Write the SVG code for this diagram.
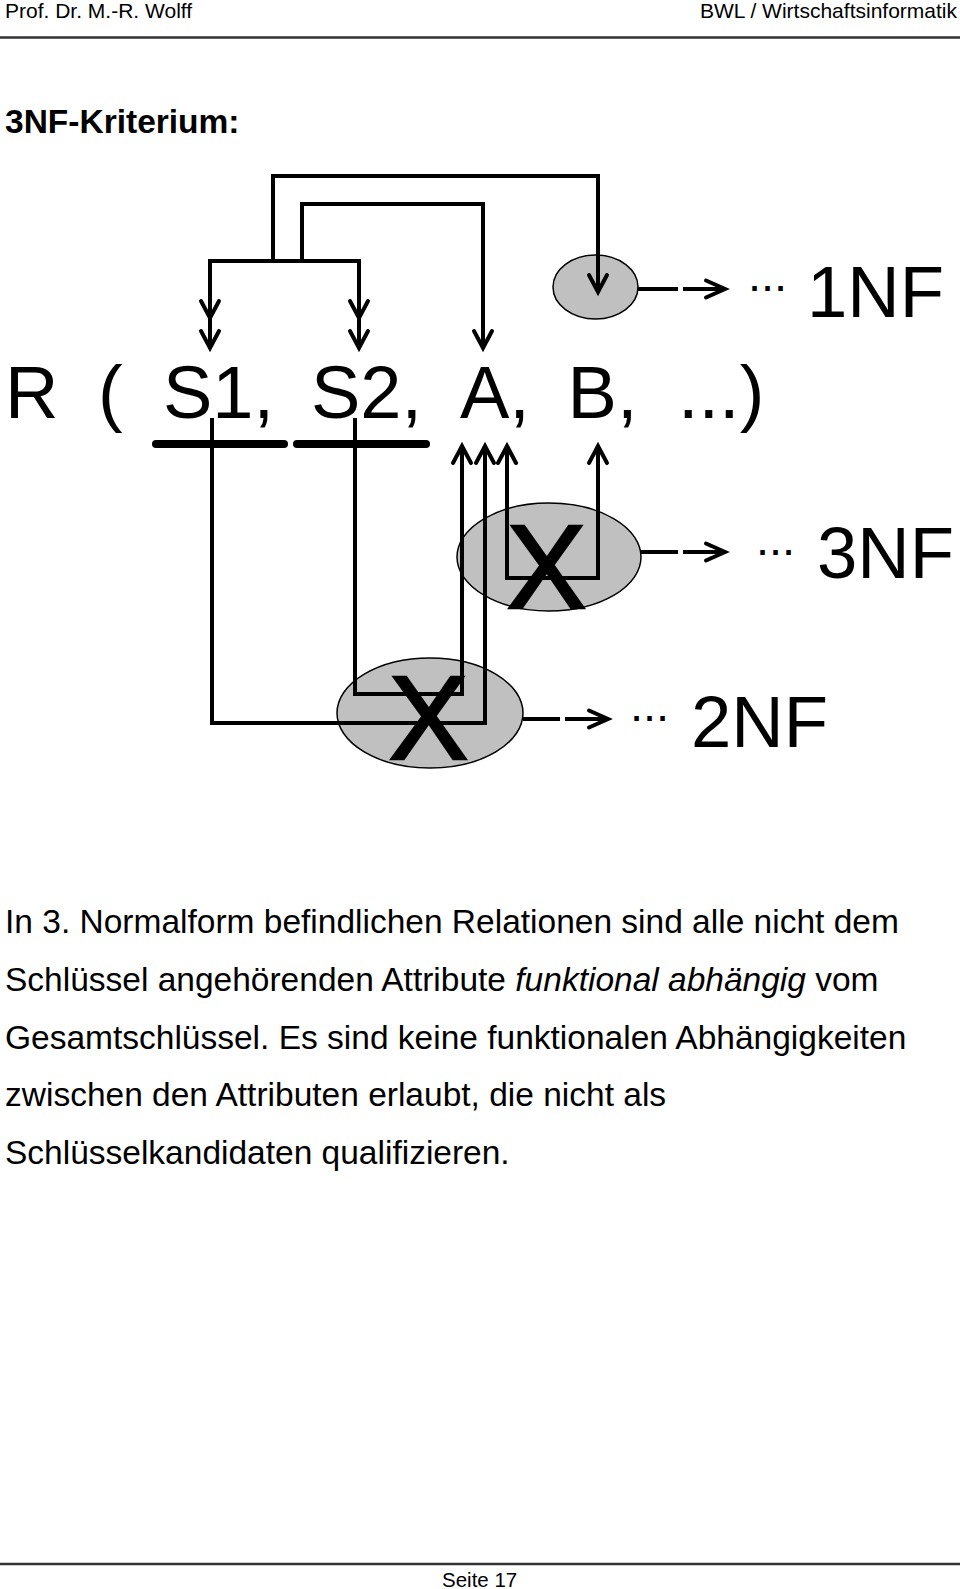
<svg xmlns="http://www.w3.org/2000/svg" width="960" height="1589" viewBox="0 0 960 1589">
<style>
.t{font-family:"Liberation Sans",Arial,sans-serif;fill:#000}
.hd{font-size:21px}
.big{font-size:74px}
.nf{font-size:72.5px}
.dots{font-size:47px}
.body{font-size:33.5px}
.ln{fill:none;stroke:#000;stroke-width:4;stroke-linejoin:miter}
.ah{fill:none;stroke:#000;stroke-width:4;stroke-linecap:round;stroke-linejoin:miter}
.el{fill:#c0c0c0;stroke:#000;stroke-width:1.5}
.x{font-family:"Liberation Sans",Arial,sans-serif;font-size:119px;font-weight:normal;text-anchor:middle;fill:#000;stroke:#000;stroke-width:2.5;stroke-linejoin:miter}
</style>
<rect width="960" height="1589" fill="#fff"/>
<g id="header">
<text class="t hd" x="5" y="18.3">Prof. Dr. M.-R. Wolff</text>
<text class="t hd" x="957" y="18.3" text-anchor="end">BWL / Wirtschaftsinformatik</text>
<line x1="0" y1="37.5" x2="960" y2="37.5" stroke="#333" stroke-width="2.5"/>
</g>
<text id="title" class="t" x="5" y="133" font-size="33.5" font-weight="bold">3NF-Kriterium:</text>
<g id="ellipses">
<ellipse id="e1nf" class="el" cx="595.5" cy="287" rx="42.5" ry="32"/>
<ellipse id="e3nf" class="el" cx="549" cy="557" rx="92" ry="54"/>
<ellipse id="e2nf" class="el" cx="430" cy="713" rx="93" ry="55"/>
</g>
<g id="relation">
<text class="t big" x="5" y="418">R</text>
<text class="t big" x="98" y="418">(</text>
<text class="t big" x="163" y="418">S1,</text>
<text class="t big" x="311" y="418">S2,</text>
<text class="t big" x="460" y="418">A,</text>
<text class="t big" x="567.6" y="418">B,</text>
<text class="t big" x="678" y="418">...)</text>
<line x1="156" y1="444" x2="284" y2="444" stroke="#000" stroke-width="8" stroke-linecap="round"/>
<line x1="297" y1="444" x2="426" y2="444" stroke="#000" stroke-width="8" stroke-linecap="round"/>
</g>
<g id="connectors">
<polyline class="ln" points="210,348 210,261 359,261 359,348"/>
<polyline class="ln" points="273,261 273,176 598,176 598,292"/>
<polyline class="ln" points="302,261 302,204 483,204 483,348"/>
<polyline class="ah" points="201,301 210,318 219,301"/>
<polyline class="ah" points="201,331 210,348 219,331"/>
<polyline class="ah" points="350,301 359,318 368,301"/>
<polyline class="ah" points="350,331 359,348 368,331"/>
<polyline class="ah" points="474,331 483,348 492,331"/>
<polyline class="ah" points="589,275 598,292 607,275"/>
<polyline class="ln" points="212,418 212,723 485,723 485,446"/>
<polyline class="ln" points="355,418 355,694 462,694 462,446"/>
<polyline class="ln" points="507,446 507,578 598,578 598,446"/>
<polyline class="ah" points="453,463 462,446 471,463"/>
<polyline class="ah" points="476,463 485,446 494,463"/>
<polyline class="ah" points="498,463 507,446 516,463"/>
<polyline class="ah" points="589,463 598,446 607,463"/>
<line class="ln" x1="638" y1="289" x2="678" y2="289"/>
<line class="ln" x1="683" y1="289" x2="724" y2="289"/>
<polyline class="ah" points="706,280.5 725,289 706,297.5"/>
<line class="ln" x1="641" y1="552" x2="678" y2="552"/>
<line class="ln" x1="683" y1="552" x2="724" y2="552"/>
<polyline class="ah" points="706,543.5 725,552 706,560.5"/>
<line class="ln" x1="523" y1="719" x2="560" y2="719"/>
<line class="ln" x1="565" y1="719" x2="607" y2="719"/>
<polyline class="ah" points="589,710.5 608,719 589,727.5"/>
</g>
<g id="crosses">
<text class="x" x="546.5" y="608">X</text>
<text class="x" x="428.5" y="759">X</text>
</g>
<g id="labels">
<text class="t dots" x="748" y="290.5">...</text>
<text class="t nf" x="807" y="317">1NF</text>
<text class="t dots" x="756" y="554.5">...</text>
<text class="t nf" x="817" y="578">3NF</text>
<text class="t dots" x="630" y="720.5">...</text>
<text class="t nf" x="691" y="747">2NF</text>
</g>
<g id="body">
<text class="t body" x="5" y="933">In 3. Normalform befindlichen Relationen sind alle nicht dem</text>
<text class="t body" x="5" y="990.8">Schlüssel angehörenden Attribute <tspan font-style="italic">funktional abhängig</tspan> vom</text>
<text class="t body" x="5" y="1048.6">Gesamtschlüssel. Es sind keine funktionalen Abhängigkeiten</text>
<text class="t body" x="5" y="1106.4">zwischen den Attributen erlaubt, die nicht als</text>
<text class="t body" x="5" y="1164.2">Schlüsselkandidaten qualifizieren.</text>
</g>
<g id="footer">
<line x1="0" y1="1564" x2="960" y2="1564" stroke="#333" stroke-width="2.5"/>
<text class="t" x="442" y="1586.5" font-size="20.5">Seite 17</text>
</g>
</svg>
